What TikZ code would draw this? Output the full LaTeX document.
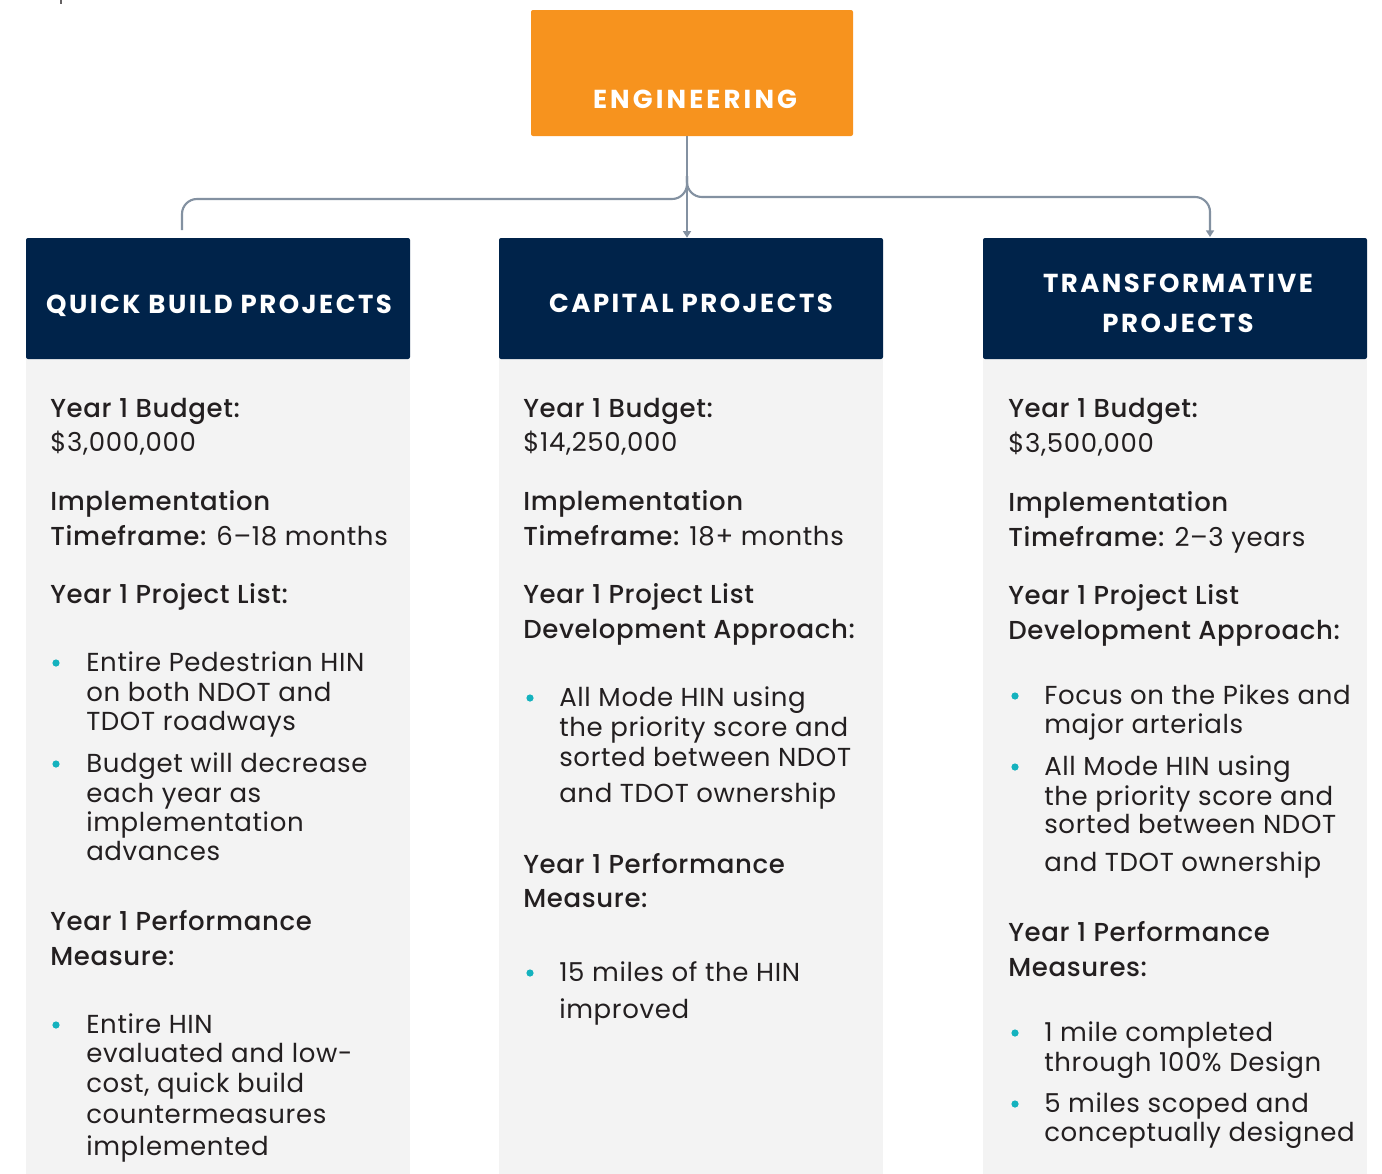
\documentclass[tikz,border=0pt]{standalone}
\usepackage{fontspec}
\setmainfont{Poppins}[LetterSpace=2.5]
\newfontfamily\medf{Poppins}[UprightFont=* Medium,LetterSpace=2.5]
\newfontfamily\hdf{Poppins}[UprightFont=* Bold,LetterSpace=9.5]
\newfontfamily\engf{Poppins}[UprightFont=* Bold,LetterSpace=12]
\usetikzlibrary{arrows.meta}
\definecolor{orangeE}{RGB}{247,147,30}
\definecolor{navy}{RGB}{0,35,74}
\definecolor{bodybg}{RGB}{243,243,243}
\definecolor{conng}{RGB}{131,145,161}
\definecolor{dot}{RGB}{20,178,190}
\definecolor{ink}{RGB}{35,31,32}
\newcounter{tl}
\newcommand\tline[3]{\stepcounter{tl}\node[txt] (t\arabic{tl}) at (#1,#2) {#3};}
\newcommand\bdot[2]{\fill[dot] (#1,#2) circle (2.7pt);}
\tikzset{
  txt/.style={anchor=base west,inner sep=0pt,text=ink,font=\fontsize{19.5}{22}\selectfont},
  hdr/.style={fill=navy,rounded corners=1.5pt,inner sep=0pt,minimum width=384*0.75pt,minimum height=121*0.75pt},
  hdrt/.style={text=white,font=\hdf\fontsize{19.5}{24}\selectfont,inner sep=0pt,anchor=base},
  conn/.style={draw=conng,line width=1.6pt},
  tip/.style={-{Triangle[width=6pt,length=5pt]}}
}
\begin{document}
\begin{tikzpicture}[x=0.75pt,y=-0.75pt]
\useasboundingbox (0,0) rectangle (1382,1174);
\fill[ink!70] (60,0) rectangle (62,4);
% bodies
\fill[bodybg] (26,359) rectangle (410,1174);
\fill[bodybg] (499,359) rectangle (883,1174);
\fill[bodybg] (983,359) rectangle (1367,1174);
% top
\node[fill=orangeE,rounded corners=1.5pt,minimum width=322*0.75pt,minimum height=126*0.75pt,inner sep=0pt] (eng) at (692,73) {};
\node[text=white,font=\engf\fontsize{19.5}{24}\selectfont,inner sep=0pt,anchor=base] (engt) at (695,108) {ENGINEERING};
% headers
\node[hdr] (qb) at (218,298.5) {};
\node[hdr] (cap) at (691,298.5) {};
\node[hdr] (tr) at (1175,298.5) {};
\node[hdrt] (qbt) at (219,313) {QUICK BUILD PROJECTS};
\node[hdrt] (capt) at (691,312) {CAPITAL PROJECTS};
\node[hdrt] (trt1) at (1178,292) {TRANSFORMATIVE};
\node[hdrt] (trt2) at (1178,332) {PROJECTS};
% connectors
\coordinate (lend) at (182,230);
\coordinate (rend) at (1210,237);
\coordinate (stem) at (687,136);
\draw[conn,tip] (stem) -- (stem |- cap.north);
\draw[conn,rounded corners=15*0.75pt] ([yshift=-40*0.75pt]stem) |- (lend |- 0,199) -- (lend);
\draw[conn,tip,rounded corners=15*0.75pt] ([yshift=-40*0.75pt]stem) |- (rend |- 0,197) -- (rend);
% column 1
\tline{50}{417}{\medf Year 1 Budget:}
\tline{50}{451}{\$3,000,000}
\tline{50}{510}{\medf Implementation}
\tline{50}{545}{{\medf Timeframe:} 6--18 months}
\tline{50}{603}{\medf Year 1 Project List:}
\bdot{56}{663}
\tline{86}{671}{Entire Pedestrian HIN}
\tline{86}{701}{on both NDOT and}
\tline{86}{730}{TDOT roadways}
\bdot{56}{764}
\tline{86}{772}{Budget will decrease}
\tline{86}{802}{each year as}
\tline{86}{831}{implementation}
\tline{86}{860}{advances}
\tline{50}{930}{\medf Year 1 Performance}
\tline{50}{965}{\medf Measure:}
\bdot{56}{1025}
\tline{86}{1033}{Entire HIN}
\tline{86}{1062}{evaluated and low-}
\tline{86}{1092}{cost, quick build}
\tline{86}{1123}{countermeasures}
\tline{86}{1155}{implemented}
% column 2
\tline{523}{417}{\medf Year 1 Budget:}
\tline{523}{451}{\$14,250,000}
\tline{523}{510}{\medf Implementation}
\tline{523}{545}{{\medf Timeframe:} 18+ months}
\tline{523}{603}{\medf Year 1 Project List}
\tline{523}{638}{\medf Development Approach:}
\bdot{530}{698}
\tline{559}{706}{All Mode HIN using}
\tline{559}{736}{the priority score and}
\tline{559}{766}{sorted between NDOT}
\tline{559}{802}{and TDOT ownership}
\tline{523}{873}{\medf Year 1 Performance}
\tline{523}{907}{\medf Measure:}
\bdot{530}{973}
\tline{559}{981}{15 miles of the HIN}
\tline{559}{1018}{improved}
% column 3
\tline{1008}{417}{\medf Year 1 Budget:}
\tline{1008}{452}{\$3,500,000}
\tline{1008}{511}{\medf Implementation}
\tline{1008}{546}{{\medf Timeframe:} 2--3 years}
\tline{1008}{604}{\medf Year 1 Project List}
\tline{1008}{639}{\medf Development Approach:}
\bdot{1015}{696}
\tline{1044}{704}{Focus on the Pikes and}
\tline{1044}{733}{major arterials}
\bdot{1015}{767}
\tline{1044}{775}{All Mode HIN using}
\tline{1044}{805}{the priority score and}
\tline{1044}{833}{sorted between NDOT}
\tline{1044}{871}{and TDOT ownership}
\tline{1008}{941}{\medf Year 1 Performance}
\tline{1008}{976}{\medf Measures:}
\bdot{1015}{1033}
\tline{1044}{1041}{1 mile completed}
\tline{1044}{1071}{through 100\% Design}
\bdot{1015}{1104}
\tline{1044}{1112}{5 miles scoped and}
\tline{1044}{1141}{conceptually designed}
\end{tikzpicture}
\end{document}
